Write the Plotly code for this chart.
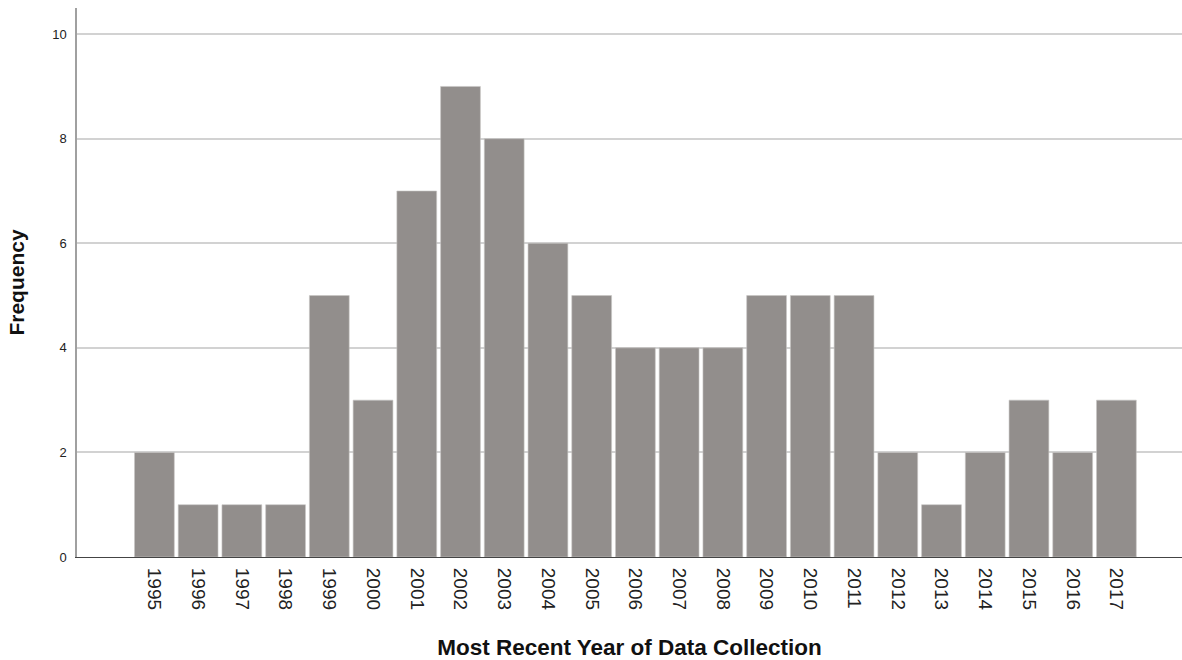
import plotly.graph_objects as go

years = [str(y) for y in range(1995, 2018)]
freq = [2, 1, 1, 1, 5, 3, 7, 9, 8, 6, 5, 4, 4, 4, 5, 5, 5, 2, 1, 2, 3, 2, 3]
yticks = [0, 2, 4, 6, 8, 10]

xs = list(range(len(years)))

fig = go.Figure()
fig.add_trace(go.Bar(
    x=xs, y=freq,
    marker=dict(color="#928e8c", line=dict(color="#c8c6c4", width=0.6)),
    width=0.91,
))
fig.update_layout(
    width=1182, height=660,
    margin=dict(l=77, r=0, t=8, b=103),
    plot_bgcolor="white", paper_bgcolor="white",
    showlegend=False,
    font=dict(family="Arial, Liberation Sans, sans-serif", color="#222"),
)
fig.update_xaxes(
    range=[-1.77, 23.5],
    tickmode="array", tickvals=xs, ticktext=years,
    tickangle=90, tickfont=dict(size=19, color="#222"),
    showgrid=False, showline=True, linecolor="#444", linewidth=1,
    ticks="outside", ticklen=6, tickcolor="rgba(0,0,0,0)",
    title=dict(text="<b>Most Recent Year of Data Collection</b>", font=dict(size=22.5, color="#111"), standoff=30),
)
fig.update_yaxes(
    range=[0, 10.5],
    tickmode="array", tickvals=yticks,
    tickfont=dict(size=13, color="#222"),
    showgrid=True, gridcolor="#d2d2d2", gridwidth=1.5,
    showline=True, linecolor="#a0a0a0", linewidth=1.5,
    zeroline=False,
    ticks="outside", ticklen=6, tickcolor="rgba(0,0,0,0)",
    title=dict(text="<b>Frequency</b>", font=dict(size=21, color="#111"), standoff=22),
)
fig.write_html("out.html", config={"displayModeBar": False},
               post_script="document.body.style.margin='0';document.body.style.overflow='hidden';")
